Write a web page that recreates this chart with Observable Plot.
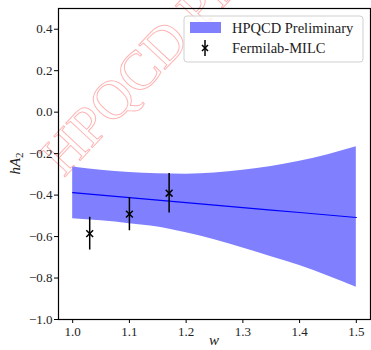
<!DOCTYPE html>
<html>
<head>
<meta charset="utf-8">
<script src="https://cdn.jsdelivr.net/npm/d3@7"></script>
<script src="https://cdn.jsdelivr.net/npm/@observablehq/plot@0.6"></script>
<style>
  body { margin: 0; background: #fff; }
  #chart { width: 371px; height: 350px; }
  #chart svg, #chart svg text { font-family: "Liberation Serif", "Times New Roman", serif !important; }
</style>
</head>
<body>
<div id="chart"></div>
<script>
// Band (HPQCD Preliminary)
const bandW   = [1.0, 1.05, 1.1, 1.15, 1.2, 1.25, 1.3, 1.35, 1.4, 1.45, 1.5];
const bandHi  = [-0.264, -0.280, -0.291, -0.297, -0.299, -0.294, -0.280, -0.262, -0.237, -0.205, -0.167];
const bandLo  = [-0.514, -0.524, -0.538, -0.554, -0.582, -0.615, -0.655, -0.697, -0.740, -0.790, -0.845];
const bandMid = [-0.388, -0.400, -0.412, -0.424, -0.436, -0.448, -0.460, -0.472, -0.484, -0.496, -0.508];

// Fermilab-MILC points
const fmW   = [1.03, 1.10, 1.17];
const fmVal = [-0.586, -0.492, -0.391];
const fmErr = [0.079, 0.080, 0.095];

const xTicks = [1.0, 1.1, 1.2, 1.3, 1.4, 1.5];
const yTicks = [-1.0, -0.8, -0.6, -0.4, -0.2, 0.0, 0.2, 0.4];

const legendLabels = ["HPQCD Preliminary", "Fermilab-MILC"];
const watermark = "HPQCD Preliminary";

const band = bandW.map((w, i) => ({w, hi: bandHi[i], lo: bandLo[i], mid: bandMid[i]}));
const pts = fmW.map((w, i) => ({w, v: fmVal[i], lo: fmVal[i] - fmErr[i], hi: fmVal[i] + fmErr[i]}));

const fmt = d => d.toFixed(1).replace("-", "\u2212");

const W = 371, H = 350;
const mL = 58, mR = 1, mT = 8, mB = 31;

const plot = Plot.plot({
  width: W,
  height: H,
  marginLeft: mL,
  marginRight: mR,
  marginTop: mT,
  marginBottom: mB,
  style: {fontFamily: "Liberation Serif, serif", fontSize: "13px", background: "white", color: "#333"},
  x: {domain: [0.975, 1.525], ticks: xTicks, tickFormat: fmt, label: null},
  y: {domain: [-1.0, 0.5], ticks: yTicks, tickFormat: fmt, label: null},
  marks: [
    Plot.areaY(band, {x: "w", y1: "lo", y2: "hi", fill: "#8080ff", curve: "monotone-x"}),
    Plot.line(band, {x: "w", y: "mid", stroke: "#0000ff", strokeWidth: 1.2}),
    Plot.ruleX(pts, {x: "w", y1: "lo", y2: "hi", stroke: "black", strokeWidth: 1.5}),
    Plot.dot(pts, {x: "w", y: "v", symbol: "times", r: 3.2, stroke: "black", strokeWidth: 1.5}),
    Plot.frame({stroke: "black", strokeWidth: 1.2}),
    Plot.axisX({ticks: xTicks, tickFormat: fmt, tickSize: 4, tickPadding: 3, fontSize: 13, label: null, stroke: "black", color: "#222"}),
    Plot.axisY({ticks: yTicks, tickFormat: fmt, tickSize: 4, tickPadding: 2, fontSize: 13, label: null, stroke: "black", color: "#222"})
  ]
});

document.getElementById("chart").appendChild(plot);

const svg = d3.select(plot);

// Watermark (behind marks)
svg.insert("text", ":first-child")
  .attr("transform", "translate(64,178) rotate(-47)")
  .attr("text-anchor", "start")
  .style("font-size", "55px")
  .attr("fill", "none")
  .attr("stroke", "rgba(255,0,0,0.3)")
  .attr("stroke-width", 1)
  .text(watermark);
svg.insert("rect", ":first-child").attr("width", W).attr("height", H).attr("fill", "white");

// Axis labels
svg.append("text")
  .attr("x", (mL + W - mR) / 2).attr("y", 345)
  .attr("text-anchor", "middle")
  .style("font-style", "italic").style("font-size", "15px")
  .attr("fill", "#222")
  .text("w");

const yl = svg.append("text")
  .attr("transform", `translate(20,${(mT + H - mB) / 2}) rotate(-90)`)
  .attr("text-anchor", "middle")
  .style("font-style", "italic").style("font-size", "15px")
  .attr("fill", "#222");
yl.append("tspan").text("hA");
yl.append("tspan").style("font-size", "11px").style("font-style", "normal").attr("dy", 3).text("2");

// Legend
const lg = svg.append("g");
lg.append("rect").attr("x", 184).attr("y", 16).attr("width", 179).attr("height", 46)
  .attr("rx", 3).attr("fill", "white").attr("fill-opacity", 0.8)
  .attr("stroke", "#d0d0d0").attr("stroke-width", 1);
lg.append("rect").attr("x", 190).attr("y", 22).attr("width", 31).attr("height", 11).attr("fill", "#8080ff");
lg.append("line").attr("x1", 205).attr("x2", 205).attr("y1", 40).attr("y2", 56).attr("stroke", "black").attr("stroke-width", 1.5);
lg.append("path").attr("d", "M202,45L208,51M202,51L208,45").attr("stroke", "black").attr("stroke-width", 1.5);
lg.selectAll("text.lab").data(legendLabels).join("text")
  .attr("class", "lab")
  .attr("x", 232).attr("y", (d, i) => 33 + i * 20)
  .attr("text-anchor", "start")
  .style("font-size", "14.5px")
  .attr("fill", "#222")
  .text(d => d);
</script>
</body>
</html>
